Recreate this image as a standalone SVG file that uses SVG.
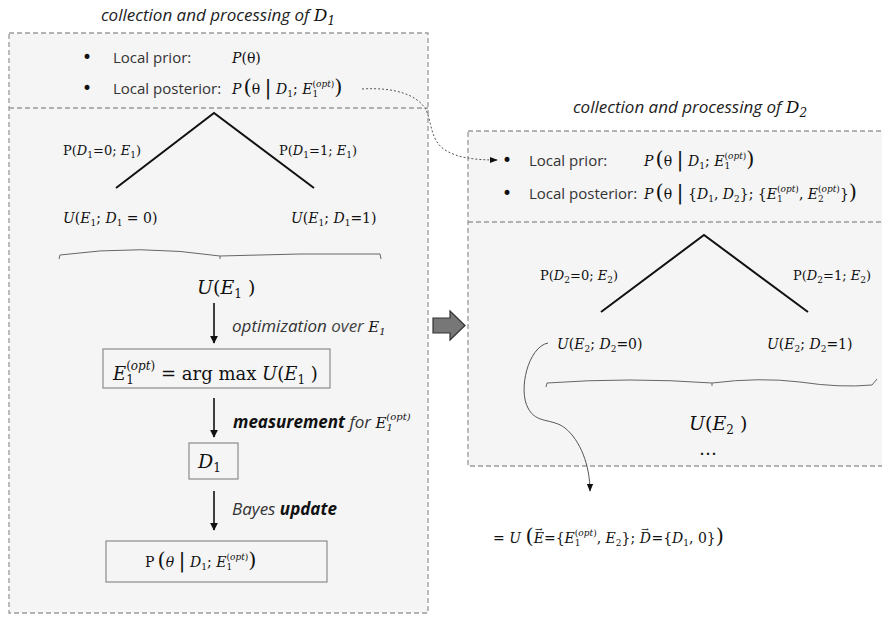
<svg xmlns="http://www.w3.org/2000/svg" width="882" height="621" viewBox="0 0 882 621">
<defs>
<style>
.frame{fill:#f5f5f5;stroke:#9a9a9a;stroke-width:1.3;stroke-dasharray:5,3}
.div{stroke:#9a9a9a;stroke-width:1.3;stroke-dasharray:5,3;fill:none}
.box{fill:#f5f5f5;stroke:#8c8c8c;stroke-width:1.2}
.ttl{font-family:"Open Sans",sans-serif;font-style:italic;font-size:17px;fill:#222}
.lbl{font-family:"Open Sans",sans-serif;font-size:15px;fill:#333}
.bul{font-family:"DejaVu Sans",sans-serif;font-size:17px;fill:#111}
.it{font-family:"Open Sans",sans-serif;font-style:italic;font-size:17px;fill:#333}
.bi{font-weight:bold;fill:#111}
.m{font-family:"DejaVu Serif",serif;font-size:13px;fill:#111}
.mm{font-size:14px}
.M{font-family:"DejaVu Serif",serif;font-size:18px;fill:#111}
.i{font-style:italic}
.s{font-size:9px}
.S{font-size:12px}
.bg{font-size:21px}
.tree{stroke:#111;stroke-width:2;fill:none}
.arr{stroke:#111;stroke-width:1.6;fill:none;marker-end:url(#ah)}
.brace{stroke:#666;stroke-width:1;fill:none}
.dot{stroke:#555;stroke-width:1;stroke-dasharray:2,2;fill:none;marker-end:url(#sh)}
.thin{stroke:#555;stroke-width:1;fill:none;marker-end:url(#sh)}
</style>
<marker id="ah" viewBox="0 0 10 10" refX="9" refY="5" markerWidth="5" markerHeight="5" orient="auto" markerUnits="strokeWidth"><path d="M0,0 L10,5 L0,10 z" fill="#111"/></marker>
<marker id="sh" viewBox="0 0 10 10" refX="9" refY="5" markerWidth="8" markerHeight="8" orient="auto" markerUnits="strokeWidth"><path d="M0,1 L10,5 L0,9 z" fill="#111"/></marker>
</defs>
<rect width="882" height="621" fill="#fff"/>

<g id="stage1">
<text class="ttl" x="218" y="21" text-anchor="middle">collection and processing of <tspan class="m i" style="font-size:17px">D</tspan><tspan class="m" style="font-size:12px" dy="4">1</tspan></text>
<rect class="frame" x="9" y="33" width="419" height="580"/>
<line class="div" x1="9" y1="108" x2="428" y2="108"/>
</g>

<g id="prior1">
<text class="bul" x="82" y="63">•</text>
<text class="lbl" x="113" y="63">Local prior:</text>
<text class="m mm" x="232" y="63"><tspan class="i">P</tspan>(θ)</text>
</g>

<g id="posterior1">
<text class="bul" x="82" y="94">•</text>
<text class="lbl" x="113" y="94">Local posterior:</text>
<text class="m mm" x="232" y="94"><tspan class="i">P</tspan><tspan class="bg" dx="2">(</tspan>θ <tspan class="bg">|</tspan> <tspan class="i">D</tspan><tspan class="s" dy="3">1</tspan><tspan dy="-3">; </tspan><tspan class="i">E</tspan><tspan class="s" dy="3">1</tspan><tspan class="s" dx="-5.7" dy="-10">(<tspan class="i">opt</tspan>)</tspan><tspan class="bg" dy="7">)</tspan></text>
</g>

<g id="tree1-labels">
<text class="m" x="63" y="155">P(<tspan class="i">D</tspan><tspan class="s" dy="3">1</tspan><tspan dy="-3">=0; </tspan><tspan class="i">E</tspan><tspan class="s" dy="3">1</tspan><tspan dy="-3">)</tspan></text>
<text class="m" x="279" y="155">P(<tspan class="i">D</tspan><tspan class="s" dy="3">1</tspan><tspan dy="-3">=1; </tspan><tspan class="i">E</tspan><tspan class="s" dy="3">1</tspan><tspan dy="-3">)</tspan></text>
</g>

<g id="u1-0">
<text class="m mm" x="63" y="223"><tspan class="i">U</tspan>(<tspan class="i">E</tspan><tspan class="s" dy="3">1</tspan><tspan dy="-3">; </tspan><tspan class="i">D</tspan><tspan class="s" dy="3">1</tspan><tspan dy="-3"> = 0)</tspan></text>
</g>
<g id="u1-1">
<text class="m mm" x="291" y="223"><tspan class="i">U</tspan>(<tspan class="i">E</tspan><tspan class="s" dy="3">1</tspan><tspan dy="-3">; </tspan><tspan class="i">D</tspan><tspan class="s" dy="3">1</tspan><tspan dy="-3">=1)</tspan></text>
</g>

<g id="uE1">
<text class="M" x="197" y="294" style="font-size:19px"><tspan class="i">U</tspan>(<tspan class="i">E</tspan><tspan class="S" dy="4">1</tspan><tspan dy="-4"> )</tspan></text>
</g>

<g id="argmax">
<rect class="box" x="103" y="349" width="227" height="39"/>
<text class="M" x="113" y="380"><tspan class="i">E</tspan><tspan class="S" dy="4">1</tspan><tspan class="S" dx="-7.6" dy="-14">(<tspan class="i">opt</tspan>)</tspan><tspan dy="10"> = arg max </tspan><tspan class="i">U</tspan>(<tspan class="i">E</tspan><tspan class="S" dy="4">1</tspan><tspan dy="-4"> )</tspan></text>
</g>

<g id="d1">
<rect class="box" x="189" y="443" width="49" height="36"/>
<text class="M" x="198" y="468" style="font-size:19px"><tspan class="i">D</tspan><tspan class="S" dy="4">1</tspan></text>
</g>

<g id="posterior-box">
<rect class="box" x="106" y="541" width="221" height="41"/>
<text class="m" x="145" y="567" style="font-size:14px">P<tspan class="bg" dx="3">(</tspan><tspan class="i">θ</tspan> <tspan class="bg">|</tspan> <tspan class="i">D</tspan><tspan class="s" dy="3">1</tspan><tspan dy="-3">; </tspan><tspan class="i">E</tspan><tspan class="s" dy="3">1</tspan><tspan class="s" dx="-5.7" dy="-10">(<tspan class="i">opt</tspan>)</tspan><tspan class="bg" dy="7">)</tspan></text>
</g>

<g id="edge-labels">
<text class="it" x="232" y="332">optimization <tspan style="fill:#444">over </tspan><tspan class="m i" style="font-size:15px">E</tspan><tspan class="m" style="font-size:10px" dy="3">1</tspan></text>
<text class="it" x="233" y="428"><tspan class="bi">measurement</tspan> for <tspan class="m i" style="font-size:15px">E</tspan><tspan class="m" style="font-size:10px" dy="3">1</tspan><tspan class="m" style="font-size:10px" dx="-6.4" dy="-11">(<tspan class="i">opt</tspan>)</tspan></text>
<text class="it" x="232" y="515">Bayes <tspan class="bi">update</tspan></text>
</g>

<g id="big-arrow">
<polygon points="433,318 450,318 450,311 465,325.5 450,340 450,333 433,333" fill="#777" stroke="#333" stroke-width="1.2"/>
</g>

<g id="stage2">
<text class="ttl" x="690" y="113" text-anchor="middle">collection and processing of <tspan class="m i" style="font-size:17px">D</tspan><tspan class="m" style="font-size:12px" dy="4">2</tspan></text>
<rect class="frame" x="468" y="131" width="420" height="335"/>
<line class="div" x1="468" y1="222" x2="882" y2="222"/>
</g>

<g id="prior2">
<text class="bul" x="502" y="166">•</text>
<text class="lbl" x="529" y="166">Local prior:</text>
<text class="m mm" x="644" y="166"><tspan class="i">P</tspan><tspan class="bg" dx="2">(</tspan>θ <tspan class="bg">|</tspan> <tspan class="i">D</tspan><tspan class="s" dy="3">1</tspan><tspan dy="-3">; </tspan><tspan class="i">E</tspan><tspan class="s" dy="3">1</tspan><tspan class="s" dx="-5.7" dy="-10">(<tspan class="i">opt</tspan>)</tspan><tspan class="bg" dy="7">)</tspan></text>
</g>

<g id="posterior2">
<text class="bul" x="502" y="199">•</text>
<text class="lbl" x="529" y="199">Local posterior:</text>
<text class="m mm" x="644" y="199"><tspan class="i">P</tspan><tspan class="bg" dx="2">(</tspan>θ <tspan class="bg">|</tspan> {<tspan class="i">D</tspan><tspan class="s" dy="3">1</tspan><tspan dy="-3">, </tspan><tspan class="i">D</tspan><tspan class="s" dy="3">2</tspan><tspan dy="-3">}; {</tspan><tspan class="i">E</tspan><tspan class="s" dy="3">1</tspan><tspan class="s" dx="-5.7" dy="-10">(<tspan class="i">opt</tspan>)</tspan><tspan dy="7">, </tspan><tspan class="i">E</tspan><tspan class="s" dy="3">2</tspan><tspan class="s" dx="-5.7" dy="-10">(<tspan class="i">opt</tspan>)</tspan><tspan dy="7">}</tspan><tspan class="bg">)</tspan></text>
</g>

<g id="tree2-labels">
<text class="m" x="540" y="280">P(<tspan class="i">D</tspan><tspan class="s" dy="3">2</tspan><tspan dy="-3">=0; </tspan><tspan class="i">E</tspan><tspan class="s" dy="3">2</tspan><tspan dy="-3">)</tspan></text>
<text class="m" x="793" y="280">P(<tspan class="i">D</tspan><tspan class="s" dy="3">2</tspan><tspan dy="-3">=1; </tspan><tspan class="i">E</tspan><tspan class="s" dy="3">2</tspan><tspan dy="-3">)</tspan></text>
</g>

<g id="u2-0">
<text class="m mm" x="557" y="349"><tspan class="i">U</tspan>(<tspan class="i">E</tspan><tspan class="s" dy="3">2</tspan><tspan dy="-3">; </tspan><tspan class="i">D</tspan><tspan class="s" dy="3">2</tspan><tspan dy="-3">=0)</tspan></text>
</g>
<g id="u2-1">
<text class="m mm" x="767" y="349"><tspan class="i">U</tspan>(<tspan class="i">E</tspan><tspan class="s" dy="3">2</tspan><tspan dy="-3">; </tspan><tspan class="i">D</tspan><tspan class="s" dy="3">2</tspan><tspan dy="-3">=1)</tspan></text>
</g>

<g id="uE2">
<text class="M" x="689" y="430" style="font-size:19px"><tspan class="i">U</tspan>(<tspan class="i">E</tspan><tspan class="S" dy="4">2</tspan><tspan dy="-4"> )</tspan></text>
<text class="M" x="708" y="455" text-anchor="middle">…</text>
</g>

<g id="result">
<text class="m" x="493" y="543" style="font-size:14px">= <tspan class="i">U</tspan> <tspan class="bg">(</tspan><tspan class="i">E</tspan><tspan style="font-size:9px" dx="-9" dy="-11">→</tspan><tspan dx="1.5" dy="11">={</tspan><tspan class="i">E</tspan><tspan class="s" dy="3">1</tspan><tspan class="s" dx="-5.7" dy="-10">(<tspan class="i">opt</tspan>)</tspan><tspan dy="7">, </tspan><tspan class="i">E</tspan><tspan class="s" dy="3">2</tspan><tspan dy="-3">}; </tspan><tspan class="i">D</tspan><tspan style="font-size:9px" dx="-9.5" dy="-11">→</tspan><tspan dx="2.5" dy="11">={</tspan><tspan class="i">D</tspan><tspan class="s" dy="3">1</tspan><tspan dy="-3">, 0}</tspan><tspan class="bg">)</tspan></text>
</g>

<g id="connectors">
<polyline class="tree" points="116,188 214,113 314,188"/>
<polyline class="tree" points="601,312 704,235 808,312"/>
<line class="arr" x1="214" y1="303" x2="214" y2="343"/>
<line class="arr" x1="214" y1="398" x2="214" y2="437"/>
<line class="arr" x1="214" y1="491" x2="214" y2="530"/>
<path class="brace" d="M59,259 L60,255 Q140,244 220,256 L220,259 M220,256 Q300,253 380,254 L381,259"/>
<path class="brace" d="M546,387 L547,383 Q630,377 712,383 L712,386 M712,383 Q760,377 800,382 Q840,388 872,385 L877,379"/>
<path class="dot" d="M362,89 C395,87 418,95 426,110 C432,122 430,140 445,150 C458,158 475,160 497,160"/>
<path class="thin" d="M548,343 C528,347 518,390 528,408 C536,424 552,418 565,428 C580,440 590,465 590,491"/>
</g>
</svg>
